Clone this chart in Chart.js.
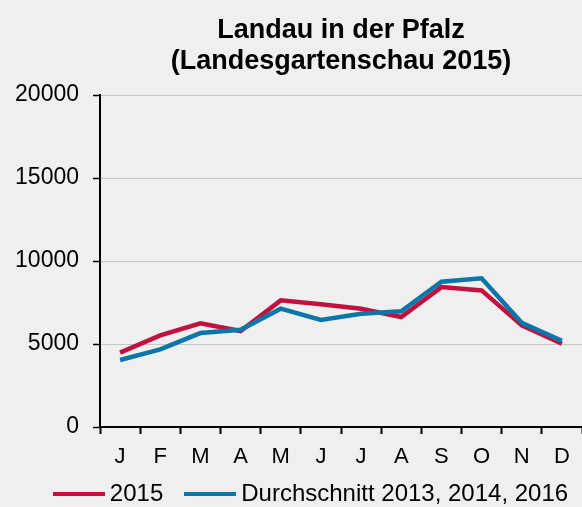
<!DOCTYPE html>
<html>
<head>
<meta charset="utf-8">
<script src="https://cdn.jsdelivr.net/npm/chart.js@4.4.1/dist/chart.umd.min.js"></script>
<style>
  html, body { margin: 0; padding: 0; background: #eeefee; }
  #wrap { width: 582px; height: 507px; }
</style>
</head>
<body>
<div id="wrap"><canvas id="chart" width="582" height="507"></canvas></div>
<script>
// Monatsbezeichnungen und Werte
const months = ['J', 'F', 'M', 'A', 'M', 'J', 'J', 'A', 'S', 'O', 'N', 'D'];
const values2015 = [4480, 5520, 6250, 5780, 7630, 7390, 7130, 6630, 8430, 8230, 6120, 5020];
const valuesAvg = [4040, 4680, 5660, 5860, 7130, 6450, 6830, 6970, 8750, 8960, 6280, 5200];
const yTicks = [0, 5000, 10000, 15000, 20000];
const seriesNames = ['2015', 'Durchschnitt 2013, 2014, 2016'];

const FONT = "'Liberation Sans', Arial, Helvetica, sans-serif";
const RED = '#c0113f';
const BLUE = '#0a77a8';

// kurze Linie als Legendensymbol
function legendLine(color) {
    const c = document.createElement('canvas');
    c.width = 52;
    c.height = 4;
    const g = c.getContext('2d');
    g.fillStyle = color;
    g.fillRect(0, 0, 52, 4);
    return c;
}

const bgPlugin = {
    id: 'bg',
    beforeDraw: (chart) => {
        const ctx = chart.ctx;
        ctx.save();
        ctx.fillStyle = '#eeefee';
        ctx.fillRect(0, 0, chart.width, chart.height);
        ctx.restore();
    }
};

// Legende etwas nach rechts und oben schieben
const legendShift = {
    id: 'legendShift',
    afterLayout: (chart) => {
        const l = chart.legend;
        if (!l) return;
        l.left += 23;
        l.right += 23;
        const h = l.height;
        l.top = 454;
        l.bottom = 454 + h;
    }
};

new Chart(document.getElementById('chart'), {
    type: 'line',
    data: {
        labels: months,
        datasets: [{
            label: seriesNames[0],
            data: values2015,
            borderColor: RED,
            backgroundColor: RED,
            borderWidth: 4.5,
            pointRadius: 0,
            tension: 0,
            order: 1
        }, {
            label: seriesNames[1],
            data: valuesAvg,
            borderColor: BLUE,
            backgroundColor: BLUE,
            borderWidth: 4.5,
            pointRadius: 0,
            tension: 0,
            order: 0
        }]
    },
    options: {
        responsive: false,
        animation: false,
        layout: { padding: { left: 0, right: 0, top: 0, bottom: -22 } },
        plugins: {
            title: {
                display: true,
                fullSize: false,
                text: ['Landau in der Pfalz', '(Landesgartenschau 2015)'],
                color: '#000',
                font: { family: FONT, size: 27, weight: 'bold', lineHeight: 1.15 },
                padding: { top: 15, bottom: 18 }
            },
            legend: {
                position: 'bottom',
                labels: {
                    color: '#000',
                    font: { family: FONT, size: 24 },
                    usePointStyle: true,
                    pointStyleWidth: 38,
                    boxHeight: 4,
                    padding: 28,
                    sort: (a, b) => a.datasetIndex - b.datasetIndex,
                    generateLabels: (chart) => {
                        const items = Chart.defaults.plugins.legend.labels.generateLabels(chart);
                        items.forEach(item => {
                            item.pointStyle = legendLine(chart.data.datasets[item.datasetIndex].borderColor);
                        });
                        return items;
                    }
                }
            },
            tooltip: { enabled: false }
        },
        scales: {
            x: {
                offset: true,
                grid: {
                    offset: true,
                    color: 'rgba(0,0,0,0)',
                    tickColor: '#000',
                    tickWidth: 2,
                    tickLength: 7
                },
                border: { color: '#000', width: 2 },
                ticks: { color: '#000', font: { family: FONT, size: 22 }, padding: 10, maxRotation: 0, autoSkip: false },
                afterFit: (scale) => { scale.height = 40; }
            },
            y: {
                min: 0,
                max: 20000,
                afterBuildTicks: (scale) => { scale.ticks = yTicks.map(v => ({ value: v })); },
                grid: {
                    color: '#c6c7c6',
                    tickColor: '#000',
                    tickWidth: 1.5,
                    tickLength: 7
                },
                border: { color: '#000', width: 2 },
                ticks: {
                    color: '#000',
                    font: { family: FONT, size: 23 },
                    padding: 14,
                    callback: (v) => String(v)
                },
                afterFit: (scale) => { scale.width = 100; }
            }
        }
    },
    plugins: [bgPlugin, legendShift]
});
</script>
</body>
</html>
